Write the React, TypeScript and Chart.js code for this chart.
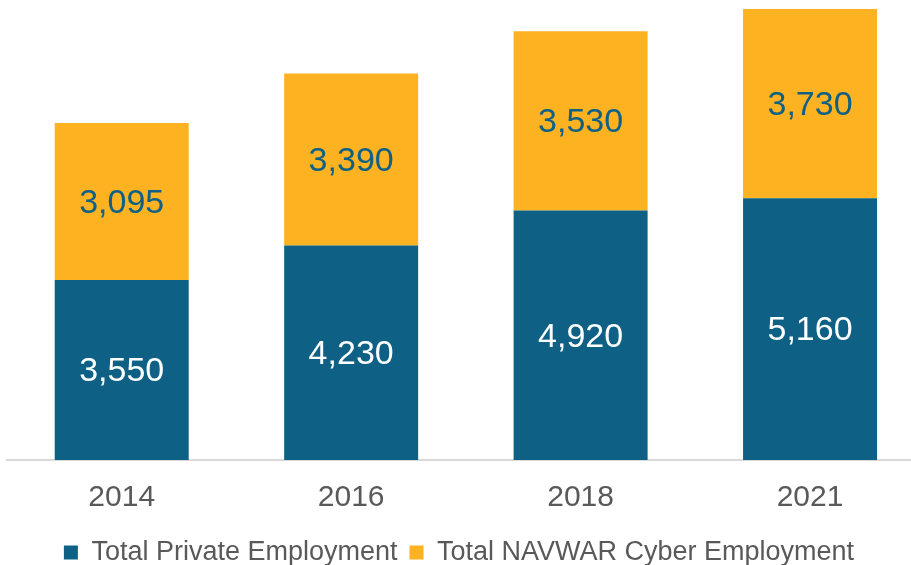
import React, { useEffect, useRef } from 'react';
import { Chart, registerables } from 'chart.js';

Chart.register(...registerables);

const years = ['2014', '2016', '2018', '2021'];
const privateEmployment = [3550, 4230, 4920, 5160];
const navwarCyberEmployment = [3095, 3390, 3530, 3730];
const seriesNames = ['Total Private Employment', 'Total NAVWAR Cyber Employment'];

const BLUE = '#0E6085';
const YELLOW = '#FDB221';
const GRAY = '#595959';
const FONT = "'Liberation Sans', Arial, sans-serif";

const labelPlugin = {
  id: 'barValueLabels',
  afterDatasetsDraw(chart: any) {
    const ctx = chart.ctx;
    ctx.save();
    ctx.font = `34px ${FONT}`;
    ctx.textAlign = 'center';
    ctx.textBaseline = 'middle';
    chart.data.datasets.forEach((ds: any, di: number) => {
      const meta = chart.getDatasetMeta(di);
      ctx.fillStyle = di === 0 ? '#FFFFFF' : BLUE;
      meta.data.forEach((bar: any, i: number) => {
        const { x, y, base } = bar.getProps(['x', 'y', 'base'], true);
        const v = ds.data[i].y;
        ctx.fillText(v.toLocaleString('en-US'), x, (y + base) / 2 + 2);
      });
    });
    ctx.restore();
  },
};

export default function App() {
  const ref = useRef<HTMLCanvasElement | null>(null);

  useEffect(() => {
    if (!ref.current) return;
    const chart = new Chart(ref.current, {
      type: 'bar',
      data: {
        datasets: [
          {
            label: seriesNames[0],
            data: privateEmployment.map((v, i) => ({ x: i, y: v })),
            backgroundColor: BLUE,
            barPercentage: 0.584,
            categoryPercentage: 1,
          },
          {
            label: seriesNames[1],
            data: navwarCyberEmployment.map((v, i) => ({ x: i, y: v })),
            backgroundColor: YELLOW,
            barPercentage: 0.584,
            categoryPercentage: 1,
          },
        ],
      },
      options: {
        animation: false,
        responsive: true,
        maintainAspectRatio: false,
        events: [],
        layout: { padding: { top: 9, left: 7, right: 0, bottom: -11 } },
        scales: {
          x: {
            type: 'linear',
            stacked: true,
            offset: false,
            min: -0.5,
            max: 3.44,
            afterBuildTicks: (axis: any) => {
              axis.ticks = years.map((_, i) => ({ value: i }));
            },
            afterFit: (axis: any) => {
              axis.height -= 9;
            },
            ticks: {
              callback: (v: any) => years[v] ?? '',
              font: { size: 30, family: FONT },
              color: GRAY,
              padding: 20,
              maxRotation: 0,
              autoSkip: false,
            },
            grid: { display: false, drawTicks: false, offset: false },
            border: { display: true, color: '#D9D9D9', width: 2 },
          },
          y: {
            stacked: true,
            display: false,
            min: 0,
            max: 8890,
          },
        },
        plugins: {
          legend: {
            position: 'bottom',
            labels: {
              boxWidth: 14,
              boxHeight: 14,
              padding: 12,
              color: GRAY,
              font: { size: 27, family: FONT },
            },
          },
          tooltip: { enabled: false },
        },
      },
      plugins: [labelPlugin],
    } as any);
    return () => chart.destroy();
  }, []);

  return (
    <div style={{ position: 'fixed', left: 0, top: 0, width: 911, height: 565, background: '#fff' }}>
      <canvas ref={ref} />
    </div>
  );
}
